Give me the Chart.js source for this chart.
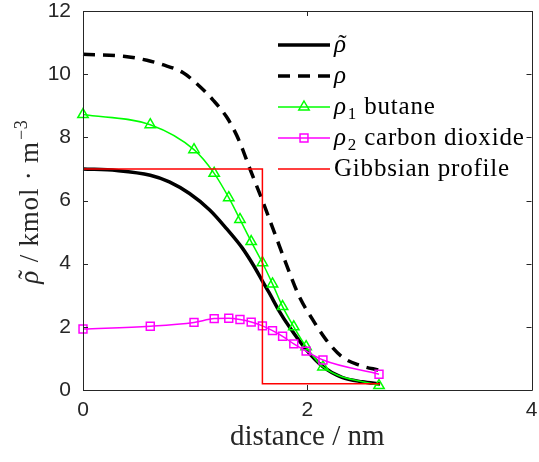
<!DOCTYPE html>
<html>
<head>
<meta charset="utf-8">
<script src="https://cdn.jsdelivr.net/npm/chart.js@4/dist/chart.umd.min.js"></script>
<style>
  html, body { margin: 0; padding: 0; background: #fff; }
</style>
</head>
<body>
<canvas id="chart" width="539" height="462"></canvas>
<script>
// values (distance in nm, density in kmol/m^3)
const rhoTildeX = [0, 0.3, 0.6, 0.77, 0.95, 1.13, 1.28, 1.42, 1.52, 1.6, 1.66, 1.75, 1.84, 1.99, 2.14, 2.31, 2.49, 2.65];
const rhoTildeY = [7.0, 6.95, 6.8, 6.59, 6.22, 5.7, 5.11, 4.5, 3.95, 3.45, 3.08, 2.5, 2.0, 1.28, 0.74, 0.4, 0.26, 0.19];

const rhoX = [0, 0.36, 0.57, 0.71, 0.89, 1.02, 1.16, 1.28, 1.37, 1.42, 1.48, 1.6, 1.71, 1.81, 1.93, 2.05, 2.17, 2.31, 2.46, 2.65];
const rhoY = [10.63, 10.57, 10.44, 10.3, 10.05, 9.68, 9.18, 8.65, 8.07, 7.65, 7.08, 6.0, 4.96, 4.01, 2.95, 2.22, 1.58, 1.05, 0.79, 0.62];

const markerX = [0, 0.6, 0.99, 1.17, 1.3, 1.4, 1.5, 1.6, 1.69, 1.78, 1.88, 1.99, 2.14, 2.64];
const butaneY = [8.72, 8.4, 7.61, 6.86, 6.09, 5.4, 4.7, 4.03, 3.36, 2.64, 2.0, 1.37, 0.73, 0.14];
const co2Y = [1.93, 2.02, 2.14, 2.26, 2.27, 2.23, 2.15, 2.03, 1.88, 1.7, 1.46, 1.23, 0.95, 0.5];

const gibbsX = [0, 1.6, 1.6, 2.65];
const gibbsY = [7.0, 7.0, 0.2, 0.2];

const xTicks = [0, 2, 4];
const yTicks = [0, 2, 4, 6, 8, 10, 12];

// legend text split into symbol / subscript / name so rho can be italic
const legendSymbols = ['ρ', 'ρ', 'ρ', 'ρ', ''];
const legendTilde = [true, false, false, false, false];
const legendSubs = ['', '', '1', '2', ''];
const legendNames = ['', '', ' butane', ' carbon dioxide', 'Gibbsian profile'];

const xTitle = 'distance / nm';
const yTitleSymbol = 'ρ';
const yTitleText = ' / kmol · m';
const yTitleSup = '−3';

function pairs(xs, ys) {
  return xs.map((x, i) => ({ x: x, y: ys[i] }));
}

function markerPath(ctx, style, r, x, y) {
  ctx.beginPath();
  if (style === 'triangle') {
    ctx.moveTo(x, y - r);
    ctx.lineTo(x + 0.866 * r, y + 0.5 * r);
    ctx.lineTo(x - 0.866 * r, y + 0.5 * r);
    ctx.closePath();
  } else if (style === 'rect') {
    const s = r * Math.SQRT1_2;
    ctx.rect(x - s, y - s, 2 * s, 2 * s);
  }
}

// italic rho with a tilde on top, returns advance
function drawRhoTilde(ctx, x, base, size, tilde) {
  ctx.font = 'italic ' + size + 'px "Liberation Serif"';
  const w = ctx.measureText('ρ').width;
  ctx.fillText('ρ', x, base);
  if (tilde) {
    ctx.save();
    ctx.font = size + 'px "Liberation Serif"';
    ctx.textAlign = 'center';
    ctx.fillText('˜', x + w / 2 + size * 0.1, base - size * 0.02);
    ctx.restore();
  }
  return w;
}

// box with inward ticks on all four sides, like the matlab axes
const framePlugin = {
  id: 'frame',
  afterDatasetsDraw(chart) {
    const ctx = chart.ctx;
    const a = chart.chartArea;
    const xs = chart.scales.x, ys = chart.scales.y;
    ctx.save();
    ctx.strokeStyle = '#262626';
    ctx.lineWidth = 1;
    ctx.beginPath();
    ctx.rect(Math.round(a.left) + 0.5, Math.round(a.top) + 0.5, Math.round(a.right - a.left), Math.round(a.bottom - a.top));
    xTicks.forEach(v => {
      const px = Math.round(xs.getPixelForValue(v)) + 0.5;
      ctx.moveTo(px, a.bottom); ctx.lineTo(px, a.bottom - 5);
      ctx.moveTo(px, a.top); ctx.lineTo(px, a.top + 5);
    });
    yTicks.forEach(v => {
      const py = Math.round(ys.getPixelForValue(v)) + 0.5;
      ctx.moveTo(a.left, py); ctx.lineTo(a.left + 5, py);
      ctx.moveTo(a.right, py); ctx.lineTo(a.right - 5, py);
    });
    ctx.stroke();
    ctx.restore();
  }
};

// rotated y title with italic rho, tilde and superscript
const yTitlePlugin = {
  id: 'yTitle',
  afterDraw(chart) {
    const ctx = chart.ctx;
    const a = chart.chartArea;
    const size = 27, supSize = 18;
    ctx.save();
    ctx.fillStyle = '#262626';
    ctx.letterSpacing = '0.8px';
    ctx.font = 'italic ' + size + 'px "Liberation Serif"';
    const w1 = ctx.measureText(yTitleSymbol).width;
    ctx.font = size + 'px "Liberation Serif"';
    const w2 = ctx.measureText(yTitleText).width;
    ctx.font = supSize + 'px "Liberation Serif"';
    const w3 = ctx.measureText(yTitleSup).width;
    const total = w1 + w2 + w3 + 1;
    ctx.translate(38, (a.top + a.bottom) / 2 + 1);
    ctx.rotate(-Math.PI / 2);
    let x = -total / 2;
    x += drawRhoTilde(ctx, x, 0, size, true);
    ctx.font = size + 'px "Liberation Serif"';
    ctx.fillText(yTitleText, x, 0);
    x += w2 + 1;
    ctx.font = supSize + 'px "Liberation Serif"';
    ctx.fillText(yTitleSup, x, -11);
    ctx.restore();
  }
};

// legend with the line sample and a marker in the middle
const legendPlugin = {
  id: 'lineLegend',
  afterDraw(chart) {
    const ctx = chart.ctx;
    const x0 = 278, x1 = 330, tx = 334, top = 45, step = 31;
    chart.data.datasets.forEach((ds, i) => {
      const y = top + i * step;
      ctx.save();
      ctx.strokeStyle = ds.borderColor;
      ctx.lineWidth = ds.borderWidth;
      ctx.setLineDash(ds.borderDash || []);
      ctx.beginPath();
      ctx.moveTo(x0, y);
      ctx.lineTo(x1, y);
      ctx.stroke();
      ctx.setLineDash([]);
      if (ds.pointRadius > 0) {
        ctx.lineWidth = ds.pointBorderWidth;
        markerPath(ctx, ds.pointStyle, ds.pointRadius, (x0 + x1) / 2, y);
        ctx.stroke();
      }
      ctx.fillStyle = '#000';
      ctx.textBaseline = 'alphabetic';
      ctx.letterSpacing = '0.8px';
      let x = tx;
      const base = y + 7;
      if (legendSymbols[i]) {
        x += drawRhoTilde(ctx, x, base, 25, legendTilde[i]) + 1;
      }
      if (legendSubs[i]) {
        ctx.font = '17px "Liberation Serif"';
        ctx.fillText(legendSubs[i], x, base + 5);
        x += ctx.measureText(legendSubs[i]).width;
      }
      if (legendNames[i]) {
        ctx.font = '25px "Liberation Serif"';
        ctx.fillText(legendNames[i], x, base);
      }
      ctx.restore();
    });
  }
};

new Chart(document.getElementById('chart'), {
  type: 'line',
  data: {
    datasets: [
      {
        label: 'rho tilde',
        data: pairs(rhoTildeX, rhoTildeY),
        borderColor: '#000000',
        borderWidth: 3.5,
        pointRadius: 0,
        cubicInterpolationMode: 'monotone',
        order: 4
      },
      {
        label: 'rho',
        data: pairs(rhoX, rhoY),
        borderColor: '#000000',
        borderWidth: 3.5,
        borderDash: [12, 8],
        pointRadius: 0,
        cubicInterpolationMode: 'monotone',
        order: 3
      },
      {
        label: 'rho1 butane',
        data: pairs(markerX, butaneY),
        borderColor: '#00ff00',
        borderWidth: 1.5,
        pointStyle: 'triangle',
        pointRadius: 6,
        pointBorderWidth: 1.5,
        pointBorderColor: '#00ff00',
        pointBackgroundColor: 'rgba(0,0,0,0)',
        cubicInterpolationMode: 'monotone',
        order: 2
      },
      {
        label: 'rho2 carbon dioxide',
        data: pairs(markerX, co2Y),
        borderColor: '#ff00ff',
        borderWidth: 1.5,
        pointStyle: 'rect',
        pointRadius: 5.6,
        pointBorderWidth: 1.5,
        pointBorderColor: '#ff00ff',
        pointBackgroundColor: 'rgba(0,0,0,0)',
        cubicInterpolationMode: 'monotone',
        order: 1
      },
      {
        label: 'Gibbsian profile',
        data: pairs(gibbsX, gibbsY),
        borderColor: '#ff0000',
        borderWidth: 1.5,
        pointRadius: 0,
        tension: 0,
        order: 0
      }
    ]
  },
  options: {
    responsive: false,
    animation: false,
    devicePixelRatio: 1,
    layout: { padding: { left: 0, top: 11, right: 6, bottom: 0 } },
    datasets: { line: { clip: 8 } },
    plugins: {
      legend: { display: false },
      tooltip: { enabled: false }
    },
    scales: {
      x: {
        type: 'linear',
        min: 0,
        max: 4,
        afterBuildTicks: s => { s.ticks = xTicks.map(v => ({ value: v })); },
        afterFit: s => { s.height = 72; s.paddingLeft = 0; s.paddingRight = 0; },
        grid: { display: false, drawTicks: false },
        border: { display: false },
        ticks: {
          padding: 8,
          color: '#262626',
          font: { family: '"Liberation Sans"', size: 21 },
          maxRotation: 0
        },
        title: {
          display: true,
          text: xTitle,
          color: '#262626',
          font: { family: '"Liberation Serif"', size: 29 },
          padding: { top: 0, bottom: 7 }
        }
      },
      y: {
        type: 'linear',
        min: 0,
        max: 12,
        afterBuildTicks: s => { s.ticks = yTicks.map(v => ({ value: v })); },
        afterFit: s => { s.width = 83; s.paddingTop = 0; s.paddingBottom = 0; },
        grid: { display: false, drawTicks: false },
        border: { display: false },
        ticks: {
          padding: 12,
          color: '#262626',
          font: { family: '"Liberation Sans"', size: 21 }
        }
      }
    }
  },
  plugins: [framePlugin, yTitlePlugin, legendPlugin]
});
</script>
</body>
</html>
